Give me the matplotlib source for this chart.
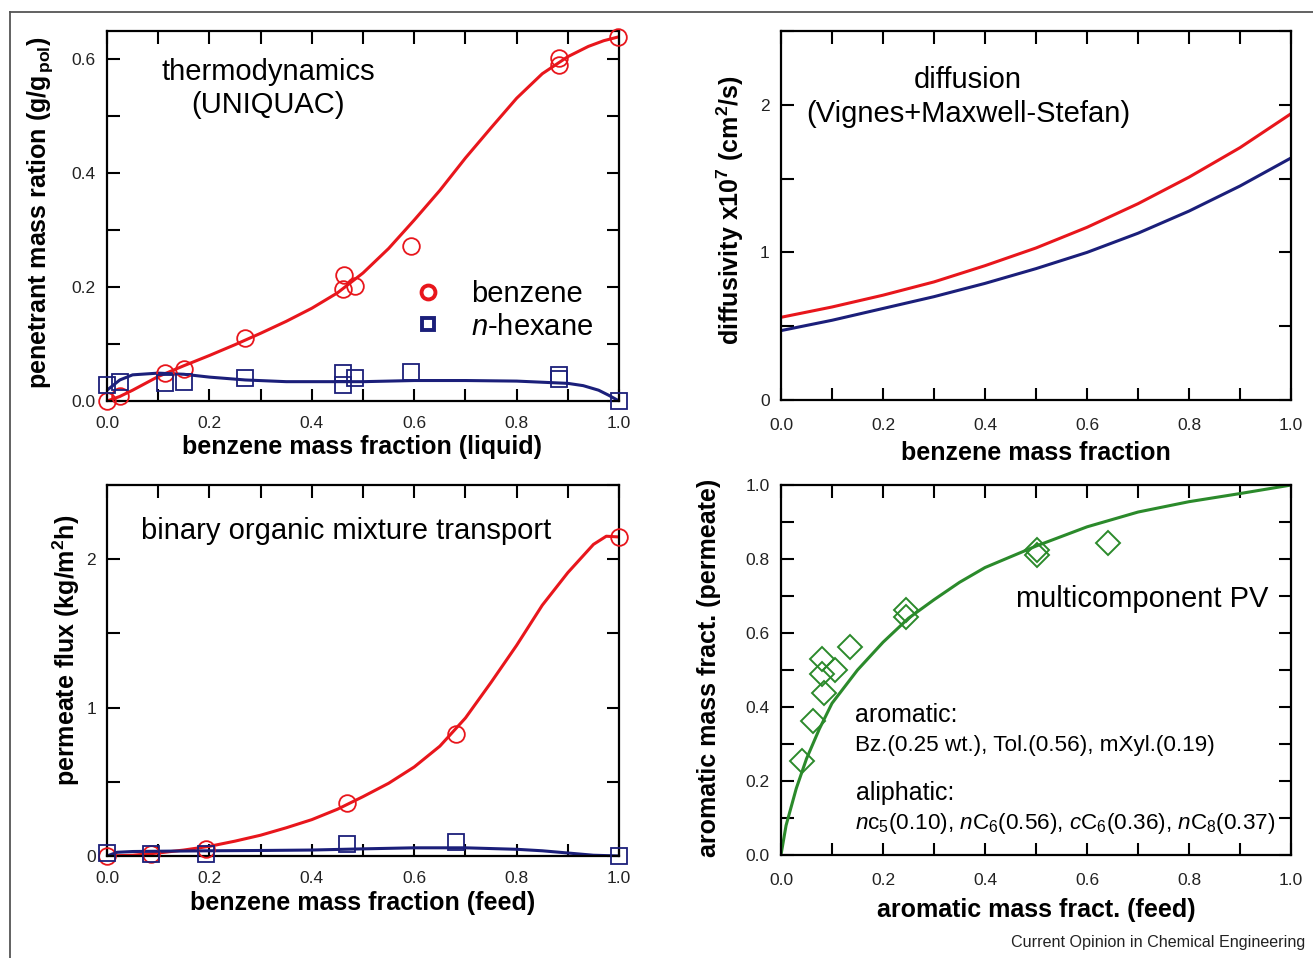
import matplotlib
matplotlib.use("Agg")
import matplotlib.pyplot as plt
from matplotlib.lines import Line2D
from matplotlib.ticker import MultipleLocator

plt.rcParams['font.family'] = ['Liberation Sans', 'DejaVu Sans']
plt.rcParams['mathtext.fontset'] = 'custom'
plt.rcParams['mathtext.rm'] = 'Liberation Sans'
plt.rcParams['mathtext.it'] = 'Liberation Sans:italic'
plt.rcParams['mathtext.bf'] = 'Liberation Sans:bold'

RED = '#e8161c'
NAVY = '#1b1f7a'
GREEN = '#2b8a2b'

# --- top left: sorption, UNIQUAC
sorp_bz_x = [0.0, 0.025, 0.113, 0.15, 0.27, 0.463, 0.46, 0.484, 0.594, 0.883, 0.883, 0.998]
sorp_bz_y = [0.0, 0.008, 0.05, 0.056, 0.11, 0.221, 0.196, 0.202, 0.272, 0.602, 0.591, 0.64]
sorp_hx_x = [0.0, 0.025, 0.113, 0.15, 0.27, 0.46, 0.46, 0.484, 0.594, 0.883, 0.883, 1.0]
sorp_hx_y = [0.028, 0.033, 0.032, 0.033, 0.040, 0.049, 0.028, 0.040, 0.051, 0.046, 0.038, 0.0]
uniq_bz_x = [0, 0.025, 0.05, 0.1, 0.15, 0.2, 0.25, 0.3, 0.35, 0.4, 0.45, 0.5, 0.55, 0.6,
             0.65, 0.7, 0.75, 0.8, 0.85, 0.9, 0.94, 0.97, 1.0]
uniq_bz_y = [0.0, 0.008, 0.019, 0.043, 0.062, 0.08, 0.099, 0.119, 0.14, 0.163, 0.19, 0.225,
             0.268, 0.318, 0.37, 0.427, 0.48, 0.532, 0.575, 0.605, 0.623, 0.633, 0.64]
uniq_hx_x = [0, 0.025, 0.05, 0.1, 0.15, 0.2, 0.27, 0.35, 0.4, 0.5, 0.6, 0.7, 0.8, 0.85,
             0.9, 0.93, 0.96, 0.98, 1.0]
uniq_hx_y = [0.019, 0.037, 0.046, 0.049, 0.047, 0.042, 0.037, 0.034, 0.034, 0.034, 0.036,
             0.036, 0.035, 0.033, 0.031, 0.027, 0.019, 0.01, 0.0]

# --- top right: diffusivity
diff_x = [0.0, 0.1, 0.2, 0.3, 0.4, 0.5, 0.6, 0.7, 0.8, 0.9, 1.0]
diff_bz = [0.56, 0.63, 0.71, 0.80, 0.91, 1.03, 1.17, 1.33, 1.51, 1.71, 1.94]
diff_hx = [0.47, 0.54, 0.62, 0.70, 0.79, 0.89, 1.00, 1.13, 1.28, 1.45, 1.64]

# --- bottom left: permeate flux
flux_x = [0.0, 0.085, 0.193, 0.469, 0.682, 1.0]
flux_bz = [0.0, 0.01, 0.05, 0.36, 0.82, 2.15]
flux_hx = [0.02, 0.01, 0.01, 0.08, 0.095, 0.0]
fit_bz_x = [0, 0.05, 0.1, 0.15, 0.2, 0.25, 0.3, 0.35, 0.4, 0.45, 0.5, 0.55, 0.6, 0.65,
            0.7, 0.75, 0.8, 0.85, 0.9, 0.95, 0.975, 1.0]
fit_bz_y = [0, 0.005, 0.02, 0.04, 0.065, 0.1, 0.14, 0.19, 0.245, 0.315, 0.40, 0.49,
            0.60, 0.74, 0.93, 1.17, 1.42, 1.69, 1.91, 2.10, 2.155, 2.15]
fit_hx_x = [0, 0.02, 0.05, 0.1, 0.2, 0.3, 0.4, 0.5, 0.6, 0.7, 0.8, 0.85, 0.9, 0.95, 1.0]
fit_hx_y = [0.0, 0.025, 0.03, 0.032, 0.035, 0.037, 0.04, 0.048, 0.055, 0.055, 0.045,
            0.035, 0.02, 0.005, 0.0]

# --- bottom right: multicomponent PV
mc_x = [0.041, 0.063, 0.081, 0.081, 0.085, 0.106, 0.135, 0.245, 0.245, 0.502, 0.502, 0.641]
mc_y = [0.255, 0.361, 0.531, 0.49, 0.437, 0.499, 0.562, 0.661, 0.643, 0.824, 0.81, 0.843]
mc_fit_x = [0, 0.01, 0.02, 0.03, 0.05, 0.075, 0.1, 0.15, 0.2, 0.25, 0.3, 0.35, 0.4, 0.5,
            0.6, 0.7, 0.8, 0.9, 1.0]
mc_fit_y = [0, 0.08, 0.13, 0.18, 0.26, 0.34, 0.41, 0.50, 0.575, 0.64, 0.69, 0.737, 0.777,
            0.835, 0.887, 0.927, 0.955, 0.977, 1.0]

W, H = 1313, 958
fig = plt.figure(figsize=(W / 100, H / 100), dpi=100)

ax1 = fig.add_axes([0.0815, 0.5814, 0.390, 0.3862])
ax2 = fig.add_axes([0.5948, 0.5825, 0.3885, 0.3851])
ax3 = fig.add_axes([0.0815, 0.1065, 0.390, 0.3872])
ax4 = fig.add_axes([0.5948, 0.1075, 0.3885, 0.3862])


def style(ax, ytop, ymaj, ymin, xpad=13):
    ax.set_xlim(0, 1)
    ax.set_ylim(0, ytop)
    ax.xaxis.set_major_locator(MultipleLocator(0.2))
    ax.xaxis.set_minor_locator(MultipleLocator(0.1))
    ax.yaxis.set_major_locator(MultipleLocator(ymaj))
    ax.yaxis.set_minor_locator(MultipleLocator(ymin))
    ax.tick_params(which='both', direction='in', top=True, right=True,
                   length=9, width=1.5, labelsize=12.5, labelcolor='#222')
    ax.tick_params(axis='x', pad=xpad)
    ax.tick_params(axis='y', pad=8)
    for s in ax.spines.values():
        s.set_linewidth(1.6)


lab = dict(fontsize=18, fontweight='bold')
txt = dict(fontsize=21)
circ = dict(ls='none', marker='o', ms=12, mfc='none', mew=1.3, clip_on=False, zorder=4)
sq = dict(ls='none', marker='s', ms=11, mfc='none', mew=1.3, clip_on=False, zorder=4)

# top left
style(ax1, 0.65, 0.2, 0.1, xpad=11)
ax1.plot(uniq_bz_x, uniq_bz_y, color=RED, lw=2.2)
ax1.plot(uniq_hx_x, uniq_hx_y, color=NAVY, lw=2.2)
ax1.plot(sorp_bz_x, sorp_bz_y, mec=RED, **circ)
ax1.plot(sorp_hx_x, sorp_hx_y, mec=NAVY, **sq)
ax1.set_xlabel('benzene mass fraction (liquid)', va='center', **lab)
ax1.xaxis.set_label_coords(0.498, -0.124)
ax1.set_ylabel(r'penetrant mass ration (g/g$_{\mathbf{\,pol}}$)', va='center', **lab)
ax1.yaxis.set_label_coords(-0.131, 0.51)
ax1.text(0.315, 0.889, 'thermodynamics', ha='center', va='center', transform=ax1.transAxes, **txt)
ax1.text(0.315, 0.800, '(UNIQUAC)', ha='center', va='center', transform=ax1.transAxes, **txt)
handles = [Line2D([], [], ls='none', marker='o', ms=10, mfc='none', mec=RED, mew=2.8),
           Line2D([], [], ls='none', marker='s', ms=9, mfc='none', mec=NAVY, mew=2.8)]
ax1.legend(handles, ['benzene', r'$\mathit{n}$-hexane'], loc='center left',
           bbox_to_anchor=(0.599, 0.245), frameon=False, fontsize=21,
           handlelength=1.0, handletextpad=0.95, labelspacing=0.15,
           borderpad=0, borderaxespad=0)

# top right
style(ax2, 2.5, 1, 0.5)
ax2.plot(diff_x, diff_bz, color=RED, lw=2.2)
ax2.plot(diff_x, diff_hx, color=NAVY, lw=2.2)
ax2.set_xlabel('benzene mass fraction', va='center', **lab)
ax2.xaxis.set_label_coords(0.5, -0.144)
ax2.set_ylabel(r'diffusivity x10$^{\mathbf{7}}$ (cm$^{\mathbf{2}}$/s)', va='center', **lab)
ax2.yaxis.set_label_coords(-0.100, 0.515)
ax2.text(0.367, 0.867, 'diffusion', ha='center', va='center', transform=ax2.transAxes, **txt)
ax2.text(0.367, 0.775, '(Vignes+Maxwell-Stefan)', ha='center', va='center',
         transform=ax2.transAxes, **txt)

# bottom left
style(ax3, 2.5, 1, 0.5, xpad=11)
ax3.plot(fit_bz_x, fit_bz_y, color=RED, lw=2.2)
ax3.plot(fit_hx_x, fit_hx_y, color=NAVY, lw=2.2)
ax3.plot(flux_x, flux_bz, mec=RED, **circ)
ax3.plot(flux_x, flux_hx, mec=NAVY, **sq)
ax3.set_xlabel('benzene mass fraction (feed)', va='center', **lab)
ax3.xaxis.set_label_coords(0.5, -0.127)
ax3.set_ylabel(r'permeate flux (kg/m$^{\mathbf{2}}$h)', va='center', **lab)
ax3.yaxis.set_label_coords(-0.080, 0.555)
ax3.text(0.466, 0.876, 'binary organic mixture transport', ha='center', va='center',
         transform=ax3.transAxes, **txt)

# bottom right
style(ax4, 1.0, 0.2, 0.1)
ax4.plot(mc_fit_x, mc_fit_y, color=GREEN, lw=2.2)
ax4.plot(mc_x, mc_y, ls='none', marker='D', ms=12, mfc='none', mec=GREEN, mew=1.4, zorder=4)
ax4.set_xlabel('aromatic mass fract. (feed)', va='center', **lab)
ax4.xaxis.set_label_coords(0.5, -0.149)
ax4.set_ylabel('aromatic mass fract. (permeate)', va='center', **lab)
ax4.yaxis.set_label_coords(-0.141, 0.505)
ax4.text(0.955, 0.691, 'multicomponent PV', ha='right', va='center',
         transform=ax4.transAxes, **txt)
ax4.text(0.145, 0.379, 'aromatic:', ha='left', va='center', transform=ax4.transAxes, fontsize=18)
ax4.text(0.145, 0.295, 'Bz.(0.25 wt.), Tol.(0.56), mXyl.(0.19)', ha='left', va='center',
         transform=ax4.transAxes, fontsize=16.2)
ax4.text(0.147, 0.168, 'aliphatic:', ha='left', va='center', transform=ax4.transAxes, fontsize=18)
ax4.text(0.145, 0.084,
         r'$\mathit{n}$c$_{\mathrm{5}}$(0.10), $\mathit{n}$C$_{\mathrm{6}}$(0.56), '
         r'$\mathit{c}$C$_{\mathrm{6}}$(0.36), $\mathit{n}$C$_{\mathrm{8}}$(0.37)',
         ha='left', va='center', transform=ax4.transAxes, fontsize=16.2)

# outer frame and caption
fig.add_artist(Line2D([10 / W, 1], [1 - 12 / H, 1 - 12 / H], transform=fig.transFigure,
                      color='#555555', lw=1.3))
fig.add_artist(Line2D([10 / W, 10 / W], [0, 1 - 12 / H], transform=fig.transFigure,
                      color='#555555', lw=1.3))
fig.text(1305 / W, 1 - 943 / H, 'Current Opinion in Chemical Engineering', ha='right',
         va='center', fontsize=11.6, color='#222')

fig.savefig('out.png', dpi=100)
